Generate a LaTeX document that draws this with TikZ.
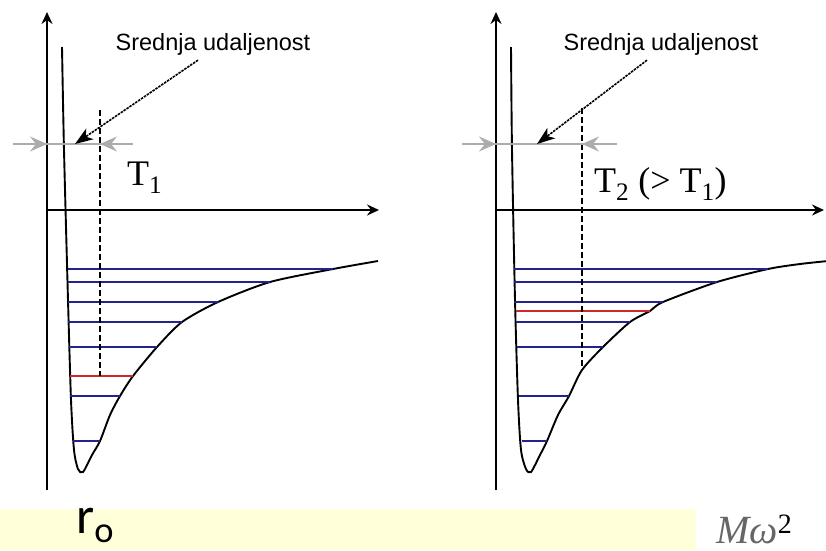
\documentclass[tikz,border=0pt]{standalone}
\usepackage{fontspec}
\setmainfont{Liberation Serif}
\setsansfont{Liberation Sans}
\newfontfamily\slidefont{Carlito}
\usetikzlibrary{arrows.meta}
\definecolor{levelblue}{HTML}{23238C}
\definecolor{levelred}{HTML}{CC2A2A}
\definecolor{notepad}{HTML}{FFFFDA}

\begin{document}
\begin{tikzpicture}[x=1pt, y=-1pt,
  axis/.style={line width=1.9pt, -{Stealth[length=12pt, width=11pt, inset=4pt]}},
  well/.style={line width=1.9pt},
  level/.style={line width=1.8pt, levelblue},
  hot/.style={line width=1.8pt, levelred},
  mean/.style={line width=1.5pt, dash pattern=on 6pt off 3pt},
  span/.style={line width=1.6pt, gray!65},
  stop/.style={line width=1.6pt, gray!65, -{Stealth[length=17pt, width=15pt, inset=6pt]}},
  pointer/.style={line width=1.6pt, dash pattern=on 2.5pt off 1pt, -{Stealth[length=18pt, width=13pt, inset=5pt]}},
  note/.style={font=\sffamily\fontsize{23.5}{26}\selectfont, inner sep=0pt},
  temp/.style={font=\fontsize{36}{40}\selectfont, inner sep=0pt, anchor=base west}]
  \useasboundingbox (0,0) rectangle (826,550);

  % left panel, T1
  \draw[axis] (47,490) -- (47,12);
  \draw[axis] (47,210) -- (379,210);
  \draw[well] plot[smooth, tension=0.45] coordinates {(62,47) (64,150) (68,300) (71,400)
    (74,450) (78,469) (83,472) (92,455) (100,441) (110,415) (120,396) (133,376) (157,347)
    (182,322) (218,302) (270,282) (333,269) (378,261)};
  \draw[level] (68,269) -- (333,269);
  \draw[level] (68,282) -- (270,282);
  \draw[level] (68,302) -- (218,302);
  \draw[level] (68,322) -- (182,322);
  \draw[level] (69,347) -- (157,347);
  \draw[hot]   (70,376) -- (133,376);
  \draw[level] (70,396) -- (120,396);
  \draw[level] (73,441) -- (100,441);
  \draw[mean] (100,110) -- (100,376);
  \draw[span] (13,144) -- (133,144);
  \draw[stop] (14,144) -- (47,144);
  \draw[stop] (133,144) -- (100,144);
  \node[note] (note1) at (213,44) {Srednja udaljenost};
  \coordinate (aim1) at (75,144);
  \draw[pointer] ([xshift=-15pt, yshift=-5pt]note1.south) -- (aim1);
  \node[temp] (t1) at (127,185) {T\textsubscript{1}};

  % right panel, T2
  \draw[axis] (496,490) -- (496,12);
  \draw[axis] (496,210) -- (824,210);
  \draw[well] plot[smooth, tension=0.45] coordinates {(511,47) (512,150) (515,300) (518,400)
    (521,450) (526,469) (531,472) (540,455) (547,441) (558,415) (569,396) (582,370) (603,347)
    (630,322) (650,311) (663,302) (717,282) (768,269) (800,264) (828,261)};
  \draw[level] (514,269) -- (768,269);
  \draw[level] (514,282) -- (717,282);
  \draw[level] (514,302) -- (663,302);
  \draw[hot]   (516,311) -- (650,311);
  \draw[level] (516,322) -- (630,322);
  \draw[level] (517,347) -- (603,347);
  \draw[level] (519,396) -- (569,396);
  \draw[level] (522,441) -- (547,441);
  \draw[mean] (582,108) -- (582,368);
  \draw[span] (462,144) -- (617,144);
  \draw[stop] (463,144) -- (496,144);
  \draw[stop] (616,144) -- (582,144);
  \node[note] (note2) at (661,44) {Srednja udaljenost};
  \coordinate (aim2) at (537,144);
  \draw[pointer] ([xshift=-14pt, yshift=-5pt]note2.south) -- (aim2);
  \node[temp] (t2) at (594,192) {T\textsubscript{2} (> T\textsubscript{1})};

  % slide footer
  \fill[notepad] (0,509) rectangle (696,550);
  \node[font=\slidefont\fontsize{52}{60}\selectfont, inner sep=0pt, anchor=base west]
    (r0) at (76,533) {r\textsubscript{o}};
  \node[font=\itshape\fontsize{40}{46}\selectfont, inner sep=0pt, anchor=base west, text=black!60]
    (mw) at (716,543) {Mω\textcolor{black}{\textsuperscript{\upshape 2}}};
\end{tikzpicture}
\end{document}
